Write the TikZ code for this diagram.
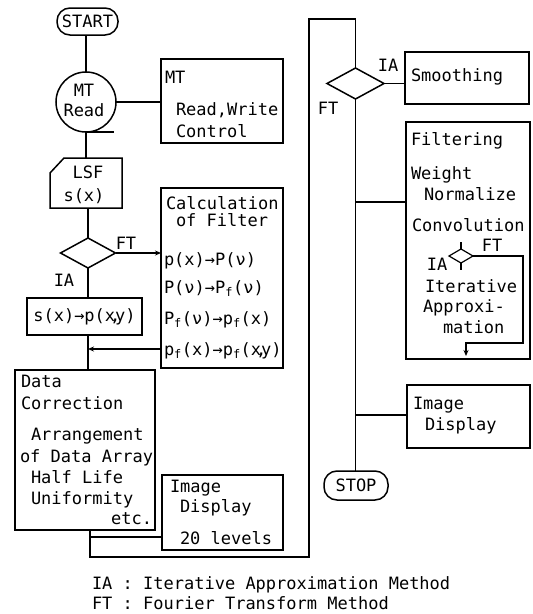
\documentclass[tikz,border=0pt]{standalone}
\usepackage{fontspec}
\newfontfamily\tw{DejaVu Sans Mono}
\newcommand\twf{\tw\fontsize{17}{20}\selectfont}
\usetikzlibrary{shapes.geometric,arrows.meta}
\begin{document}
\begin{tikzpicture}[x=1pt,y=-1pt,
  every node/.style={inner sep=0pt, outer sep=0pt},
  ln/.style={line width=1.5pt},
  lnthin/.style={line width=1.2pt},
  box/.style={draw, line width=1.5pt, rectangle},
  term/.style={draw, line width=1.5pt, rectangle, rounded corners=13pt, font=\twf},
  dia/.style={draw, line width=1.5pt, diamond},
  txt/.style={font=\twf, anchor=base west},
  lbl/.style={font=\twf},
  arr/.style={line width=1.3pt, -{Stealth[length=6pt,width=5pt]}}]
\fill[white] (0,0) rectangle (533,614);
\useasboundingbox (0,0) rectangle (533,614);

% ---- left column ----
\node[term, minimum width=61pt, minimum height=27pt] (start) at (87.5,21.5) {START};
\node[draw, line width=1.5pt, circle, minimum size=60pt] (mtc) at (86,102) {};
\node[txt, anchor=base] (mtc1) at (84,96) {MT};
\node[txt, anchor=base] (mtc2) at (84,116) {Read};

\node[box, minimum width=122pt, minimum height=84pt] (mtb) at (222,101) {};
\node[txt] (mtb1) at (165,83) {MT};
\node[txt] (mtb2) at (176,115) {Read,Write};
\node[txt] (mtb3) at (176,137) {Control};

\node[minimum width=72pt, minimum height=50pt] (lsf) at (86,183) {};
\draw[ln] (lsf.south west) -- ([yshift=-15pt]lsf.north west) -- ([xshift=14pt]lsf.north west) -- (lsf.north east) -- (lsf.south east) -- cycle;
\node[txt, anchor=base] (lsf1) at (88,178) {LSF};
\node[txt, anchor=base] (lsf2) at (84,201) {s(x)};

\node[dia, minimum width=55pt, minimum height=30pt] (d1) at (88,253) {};
\node[lbl] (ft1) at (126,243) {FT};
\node[lbl] (ia1) at (64,280) {IA};

\node[box, minimum width=115pt, minimum height=37pt, font=\twf] (sxp) at (84.5,316.5) {s(x)→p(x\makebox[0pt]{,}y)};

\node[box, minimum width=122pt, minimum height=180pt] (calc) at (222,278) {};
\node[txt] (c1) at (166,209) {Calculation};
\node[txt] (c2) at (176,226) {of Filter};
\node[txt] (c3) at (164,265) {p(x)→P(ν)};
\node[txt] (c4) at (164,293) {P(ν)→P\textsubscript{f}(ν)};
\node[txt] (c5) at (164,324) {P\textsubscript{f}(ν)→p\textsubscript{f}(x)};
\node[txt] (c6) at (164,355) {p\textsubscript{f}(x)→p\textsubscript{f}(x\makebox[0pt]{,}y)};

\node[box, minimum width=140pt, minimum height=160pt] (dc) at (85,450) {};
\node[txt] (dc1) at (21,387) {Data};
\node[txt] (dc2) at (21,409) {Correction};
\node[txt] (dc3) at (31,440) {Arrangement};
\node[txt] (dc4) at (20,462) {of Data Array};
\node[txt] (dc5) at (31,483) {Half Life};
\node[txt] (dc6) at (31,504) {Uniformity};
\node[txt, anchor=base east] (dc7) at (152,524) {etc.};

\node[box, minimum width=121pt, minimum height=75pt] (img1) at (222.5,512.5) {};
\node[txt] (i11) at (170,492) {Image};
\node[txt] (i12) at (180,512) {Display};
\node[txt] (i13) at (180,544) {20 levels};

% ---- right column ----
\node[dia, minimum width=57pt, minimum height=31pt] (d2) at (355.5,83.5) {};
\node[lbl] (ia2) at (388,65) {IA};
\node[lbl] (ft2) at (328,108) {FT};

\node[box, minimum width=124pt, minimum height=52pt] (smooth) at (467,78) {};
\node[txt] (s1) at (411,81) {Smoothing};

\node[box, minimum width=124pt, minimum height=237pt] (filt) at (468,240.5) {};
\node[txt] (f1t) at (411,145) {Filtering};
\node[txt] (f2t) at (411,179) {Weight};
\node[txt] (f3t) at (424,200) {Normalize};
\node[txt] (f4t) at (412,231) {Convolution};
\node[dia, line width=1.2pt, minimum width=24pt, minimum height=14pt] (d3) at (461,256) {};
\node[lbl] (ft3) at (492,245) {FT};
\node[lbl] (ia3) at (437,264) {IA};
\node[txt] (f5t) at (425,292) {Iterative};
\node[txt] (f6t) at (423,312) {Approxi-};
\node[txt] (f7t) at (443,333) {mation};

\node[box, minimum width=123pt, minimum height=63pt] (img2) at (468.5,416.5) {};
\node[txt] (i21) at (413,409) {Image};
\node[txt] (i22) at (425,430) {Display};

\node[term, minimum width=64pt, minimum height=29pt] (stop) at (356,485.5) {STOP};

\node[txt] (leg1) at (92,589) {IA : Iterative Approximation Method};
\node[txt] (leg2) at (92,609) {FT : Fourier Transform Method};

% ---- connectors ----
\draw[ln] (mtc.north |- start.south) -- (mtc.north);
\draw[ln] (mtc.east) -- (mtc.east -| mtb.west);
\draw[line width=2.4pt] (mtc.south) -- ++(28,0);
\draw[ln] (mtc.south) -- (mtc.south |- lsf.north);
\draw[ln] (d1.north |- lsf.south) -- (d1.north);
\draw[arr] (d1.east) -- (d1.east -| calc.west);
\draw[ln] (d1.south) -- (d1.south |- sxp.north);
\draw[ln] (d1.south |- sxp.south) -- (d1.south |- dc.north);
\coordinate (fb) at (0,349);
\draw[arr] (calc.west |- fb) -- (d1.south |- fb);

\coordinate (j1) at (90,537);
\coordinate (lb) at (90,557);
\coordinate (lt) at (309,19);
\draw[ln] (j1 |- dc.south) -- (j1) -- (lb) -| (lt) -| (d2.north);
\draw[ln] (j1) -- (j1 -| img1.west);

\draw[ln] (d2.east) -- (d2.east -| smooth.west);
\draw[ln] (d2.south) -- (d2.south |- stop.north);
\coordinate (bf) at (0,202);
\coordinate (bi) at (0,415);
\draw[ln] (d2.south |- bf) -- (filt.west |- bf);
\draw[ln] (d2.south |- bi) -- (img2.west |- bi);

\draw[lnthin] (d3.north) -- ++(0,-7);
\draw[lnthin] (d3.south) -- ++(0,7);
\coordinate (p1) at (523,256);
\coordinate (p2) at (523,343);
\coordinate (p3) at (466,343);
\coordinate (p4) at (466,356);
\draw[arr, line width=1.2pt] (d3.east) -- (p1) -- (p2) -- (p3) -- (p4);
\end{tikzpicture}
\end{document}
